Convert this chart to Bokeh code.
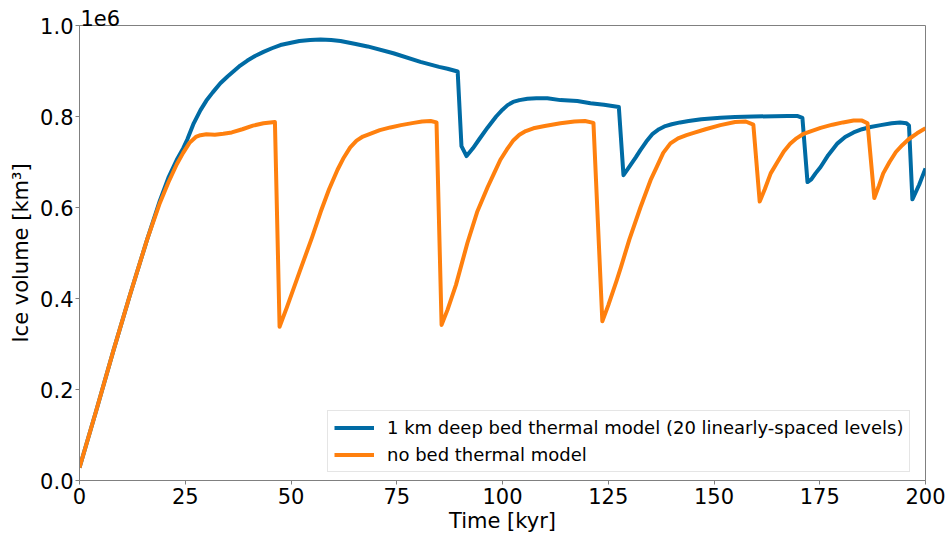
from bokeh.plotting import figure
from bokeh.models import Legend, LegendItem, FixedTicker, Range1d, ColumnDataSource
from bokeh.embed import file_html
from bokeh.resources import INLINE

# Time [kyr]
t_bed = [0, 4, 8, 12, 16, 19, 21, 23, 24.5, 25.5, 27, 28.6, 30, 31.5, 33.3, 35, 36.5, 38, 39.7,
         41.5, 43.5, 45.5, 47.5, 50, 52, 54.5, 57, 59.5, 61.7, 65, 68.1, 74.2, 80.6, 85, 87,
         89.4, 90.3, 91.5, 93, 94.5, 96.5, 98.5, 100, 101.2, 102.5, 104, 105.9, 108, 110.6,
         113.7, 117.7, 120.8, 124, 127.5, 128.6, 130, 131.5, 132.6, 134, 135.5, 137, 138.5,
         140, 142, 144, 147, 151.5, 155, 159.3, 167.4, 169.8, 170.9, 172.1, 173, 174, 175.2,
         177, 179.2, 181, 183, 185, 187, 189.4, 192, 194, 195.5, 196.1, 196.9, 198.5, 200]
# Ice volume [1e6 km^3], 1 km deep bed thermal model
v_bed = [0.028, 0.155, 0.285, 0.41, 0.53, 0.615, 0.665, 0.705, 0.73, 0.75, 0.785, 0.814,
         0.835, 0.853, 0.873, 0.888, 0.90, 0.912, 0.923, 0.933, 0.942, 0.95, 0.957, 0.962,
         0.966, 0.968, 0.969, 0.968, 0.966, 0.96, 0.954, 0.939, 0.920, 0.909, 0.905, 0.899,
         0.735, 0.713, 0.73, 0.75, 0.776, 0.80, 0.815, 0.825, 0.832, 0.836, 0.839, 0.840,
         0.840, 0.836, 0.834, 0.829, 0.826, 0.821, 0.671, 0.69, 0.71, 0.726, 0.745, 0.762,
         0.772, 0.779, 0.783, 0.787, 0.790, 0.794, 0.797, 0.799, 0.800, 0.801, 0.801, 0.797,
         0.656, 0.662, 0.675, 0.689, 0.715, 0.741, 0.755, 0.765, 0.772, 0.777, 0.781, 0.785,
         0.787, 0.785, 0.780, 0.618, 0.65, 0.686]

t_nobed = [0, 4, 8, 12, 16, 19, 21, 23, 24.5, 26, 27.5, 28.6, 30, 32, 34, 36, 38.5, 41, 43.5,
           46.2, 47.3, 49, 52, 55, 57, 59, 61, 62.5, 64, 65.5, 67, 69, 71, 73.5, 76, 79,
           81, 83, 84.4, 85.6, 87, 89, 91.7, 94, 96.5, 98, 99.5, 101, 102.6, 104, 105.5,
           107.3, 110, 113.7, 117, 119.5, 121.5, 123.6, 125, 127, 128, 130, 132.6, 135, 136.5,
           138, 139.7, 141.5, 143.5, 145.2, 148, 151.5, 155, 157.5, 159.3, 160.8, 162, 163.4,
           165, 166.5, 168, 169.5, 171, 173, 175.2, 178, 180.5, 183, 185, 186.3, 187.9, 189,
           190, 191.5, 193, 194.5, 196, 198, 200]
# Ice volume [1e6 km^3], no bed thermal model
v_nobed = [0.028, 0.155, 0.285, 0.41, 0.53, 0.61, 0.655, 0.695, 0.72, 0.742, 0.755, 0.759,
           0.761, 0.760, 0.762, 0.765, 0.772, 0.780, 0.785, 0.788, 0.338, 0.38, 0.458,
           0.535, 0.59, 0.64, 0.683, 0.71, 0.732, 0.747, 0.756, 0.763, 0.770, 0.776, 0.781,
           0.786, 0.789, 0.790, 0.787, 0.342, 0.375, 0.43, 0.522, 0.59, 0.645, 0.675, 0.705,
           0.727, 0.748, 0.76, 0.768, 0.774, 0.779, 0.785, 0.789, 0.790, 0.786, 0.350, 0.385,
           0.44, 0.469, 0.53, 0.60, 0.66, 0.69, 0.72, 0.741, 0.752, 0.759, 0.764, 0.772, 0.781,
           0.788, 0.789, 0.782, 0.613, 0.64, 0.675, 0.70, 0.723, 0.740, 0.752, 0.761, 0.768,
           0.775, 0.782, 0.787, 0.791, 0.791, 0.785, 0.621, 0.648, 0.675, 0.70, 0.722, 0.737,
           0.75, 0.763, 0.774]

x_ticks = [0, 25, 50, 75, 100, 125, 150, 175, 200]
y_ticks = [0.0, 0.2, 0.4, 0.6, 0.8, 1.0]
y_tick_labels = {0.0: "0.0", 0.2: "0.2", 0.4: "0.4", 0.6: "0.6", 0.8: "0.8", 1.0: "1.0"}

labels = ["1 km deep bed thermal model (20 linearly-spaced levels)", "no bed thermal model"]
colors = ["#006BA4", "#FF800E"]

FONT = "DejaVu Sans"
GRAY = "#808080"

p = figure(width=948, height=535, output_backend="svg", toolbar_location=None,
           x_range=Range1d(0, 200), y_range=Range1d(0, 1.0),
           min_border_left=79, min_border_right=23, min_border_top=25, min_border_bottom=54)

p.title.text = "1e6"
p.title.align = "left"
p.title.offset = 1
p.title.standoff = 0
p.title.text_font = FONT
p.title.text_font_size = "21px"
p.title.text_font_style = "normal"
p.title.text_color = "black"

p.xgrid.visible = False
p.ygrid.visible = False
p.outline_line_color = GRAY
p.outline_line_width = 1
p.background_fill_color = "white"
p.border_fill_color = "white"

src_bed = ColumnDataSource(dict(t=t_bed, v=v_bed))
src_nobed = ColumnDataSource(dict(t=t_nobed, v=v_nobed))
r1 = p.line("t", "v", source=src_bed, line_color=colors[0], line_width=4, line_join="round")
r2 = p.line("t", "v", source=src_nobed, line_color=colors[1], line_width=4, line_join="round")

p.xaxis.ticker = FixedTicker(ticks=x_ticks)
p.yaxis.ticker = FixedTicker(ticks=y_ticks)
p.yaxis.major_label_overrides = y_tick_labels
for ax in (p.xaxis[0], p.yaxis[0]):
    ax.axis_line_color = GRAY
    ax.major_tick_line_color = GRAY
    ax.minor_tick_line_color = None
    ax.major_tick_in = 0
    ax.major_tick_out = 4
    ax.major_label_text_font = FONT
    ax.major_label_text_font_size = "21px"
    ax.major_label_text_color = "black"
    ax.axis_label_text_font = FONT
    ax.axis_label_text_font_size = "21px"
    ax.axis_label_text_font_style = "normal"
    ax.axis_label_text_color = "black"

p.xaxis.axis_label = "Time [kyr]"
p.xaxis.major_label_standoff = 3
p.xaxis.axis_label_standoff = 2
p.yaxis.axis_label = "Ice volume [km³]"
p.yaxis.major_label_standoff = 2
p.yaxis.axis_label_standoff = 4

legend = Legend(items=[LegendItem(label=labels[0], renderers=[r1]),
                       LegendItem(label=labels[1], renderers=[r2])],
                location=(248, 8),
                label_text_font=FONT, label_text_font_size="18px", label_text_color="black",
                glyph_width=40, glyph_height=21, label_height=21,
                label_standoff=13, spacing=6, padding=6, margin=0,
                border_line_color="#cccccc", border_line_width=1,
                background_fill_color="white", background_fill_alpha=0.8)
p.add_layout(legend)

open("out.html", "w").write(file_html(p, INLINE))
